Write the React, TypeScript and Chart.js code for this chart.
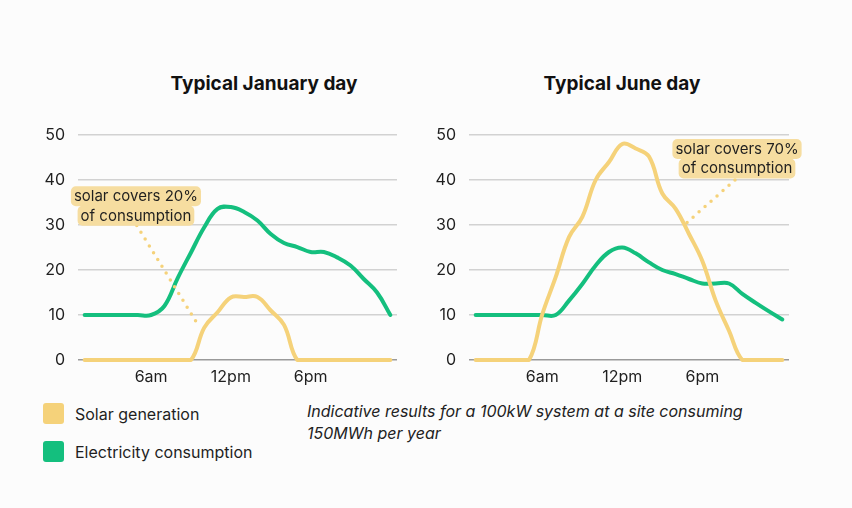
import React, { useEffect, useRef } from 'react';
import { Chart, registerables } from 'chart.js';

Chart.register(...registerables);

// ---- data ----
const hours = [
  '1am', '2am', '3am', '4am', '5am', '6am', '7am', '8am', '9am', '10am', '11am', '12pm',
  '1pm', '2pm', '3pm', '4pm', '5pm', '6pm', '7pm', '8pm', '9pm', '10pm', '11pm', '12am',
];
const shownTicks = ['6am', '12pm', '6pm'];
const yMin = 0;
const yMax = 50;
const yStep = 10;

const janSolar = [0, 0, 0, 0, 0, 0, 0, 0, 0, 7.2, 10.6, 13.9, 14, 14, 11, 7.8, 0, 0, 0, 0, 0, 0, 0, 0];
const janConsumption = [10, 10, 10, 10, 10, 10, 12, 18.2, 23.9, 29.5, 33.6, 34, 32.9, 31, 28, 26, 25.1, 24, 24, 22.8, 21, 18, 15, 10];

const junSolar = [0, 0, 0, 0, 0, 10.2, 18.4, 27.3, 31.8, 40, 44, 48, 47, 45.2, 37, 33.6, 28, 22, 13.2, 6.5, 0, 0, 0, 0];
const junConsumption = [10, 10, 10, 10, 10, 10, 10, 13.2, 16.9, 21, 24, 25, 23.7, 21.7, 20, 19.1, 18, 17, 17, 17, 14.7, 12.7, 10.8, 9];

const seriesNames = ['Solar generation', 'Electricity consumption'];
const titles = ['Typical January day', 'Typical June day'];
const janCallout = { lines: ['solar covers 20%', 'of consumption'], x: 3.86, top: 38.6, from: [3.92, 29.9], to: [8.43, 8.3] };
const junCallout = { lines: ['solar covers 70%', 'of consumption'], x: 19.6, top: 49.1, from: [19.45, 40], to: [15.83, 30.5] };
const note = ['Indicative results for a 100kW system at a site consuming', '150MWh per year'];

// ---- styles ----
const YELLOW = '#F5D27A';
const LABEL_BG = '#F6DDA0';
const GREEN = '#14BF7E';
const TEXT = '#1f1f1f';
const FONT = 'Inter, "Noto Sans", sans-serif';

const calloutPlugin = {
  id: 'callout',
  afterDatasetsDraw(chart: any, _args: any, opts: any) {
    if (!opts || !opts.lines) return;
    const { ctx } = chart;
    const xs = chart.scales.x;
    const ys = chart.scales.y;
    ctx.save();
    // dotted leader
    ctx.beginPath();
    ctx.strokeStyle = YELLOW;
    ctx.lineWidth = 3.5;
    ctx.lineCap = 'round';
    ctx.setLineDash([0, 8]);
    ctx.moveTo(xs.getPixelForValue(opts.from[0]), ys.getPixelForValue(opts.from[1]));
    ctx.lineTo(xs.getPixelForValue(opts.to[0]), ys.getPixelForValue(opts.to[1]));
    ctx.stroke();
    ctx.setLineDash([]);
    // label
    const cx = xs.getPixelForValue(opts.x);
    const top = ys.getPixelForValue(opts.top);
    const lineH = 19.5;
    ctx.font = '15px ' + FONT;
    ctx.textAlign = 'center';
    ctx.textBaseline = 'middle';
    opts.lines.forEach((t: string, i: number) => {
      const w = ctx.measureText(t).width;
      ctx.fillStyle = LABEL_BG;
      ctx.beginPath();
      (ctx as any).roundRect(cx - w / 2 - 3, top + i * lineH, w + 6, lineH + 0.5, 5);
      ctx.fill();
    });
    ctx.fillStyle = TEXT;
    opts.lines.forEach((t: string, i: number) => {
      ctx.fillText(t, cx, top + i * lineH + lineH / 2 + 0.5);
    });
    ctx.restore();
  },
};

function makeConfig(solar: number[], cons: number[], callout: any, padRight: number) {
  const ds = (label: string, data: number[], color: string) => ({
    label,
    data,
    borderColor: color,
    backgroundColor: color,
    borderWidth: 4,
    tension: 0.4,
    pointRadius: 0,
    clip: 8,
    borderCapStyle: 'round' as const,
    borderJoinStyle: 'round' as const,
  });
  return {
    type: 'line' as const,
    data: {
      labels: hours,
      datasets: [ds(seriesNames[0], solar, YELLOW), ds(seriesNames[1], cons, GREEN)],
    },
    options: {
      animation: false as const,
      responsive: false,
      layout: { padding: { top: 15, right: padRight, left: 0, bottom: 0 } },
      plugins: {
        legend: { display: false },
        tooltip: { enabled: false },
        callout,
      },
      scales: {
        x: {
          type: 'category' as const,
          offset: true,
          grid: { display: false, drawTicks: false },
          border: { display: false },
          ticks: {
            autoSkip: false,
            maxRotation: 0,
            padding: 8,
            color: TEXT,
            font: { family: FONT, size: 16 },
            callback: (_v: any, i: number) => (shownTicks.includes(hours[i]) ? hours[i] : ''),
          },
          afterFit: (s: any) => { s.height = 30; },
        },
        y: {
          min: yMin,
          max: yMax,
          grid: {
            drawTicks: false,
            color: (c: any) => (c.tick && c.tick.value === 0 ? '#9a9a9a' : '#d2d2d2'),
            lineWidth: 1.5,
          },
          border: { display: false },
          ticks: {
            stepSize: yStep,
            padding: 13,
            color: TEXT,
            font: { family: FONT, size: 16 },
          },
          afterFit: (s: any) => {
            s.width = 58;
            s.paddingTop = 0;
            s.paddingBottom = 0;
          },
        },
      },
    },
    plugins: [calloutPlugin],
  };
}

function LineChart(props: { solar: number[]; cons: number[]; callout: any; left: number; width: number; padRight: number }) {
  const ref = useRef<HTMLCanvasElement | null>(null);
  useEffect(() => {
    if (!ref.current) return;
    const chart = new Chart(ref.current, makeConfig(props.solar, props.cons, props.callout, props.padRight) as any);
    return () => chart.destroy();
  }, []);
  return (
    <canvas
      ref={ref}
      width={props.width}
      height={270}
      style={{ position: 'absolute', left: props.left, top: 120, width: props.width, height: 270 }}
    />
  );
}

export default function App() {
  const titleStyle: React.CSSProperties = {
    position: 'absolute',
    top: 72,
    width: 300,
    textAlign: 'center',
    fontSize: 19,
    lineHeight: '23px',
    fontWeight: 700,
    color: '#111',
  };
  const legendRow: React.CSSProperties = {
    position: 'absolute',
    left: 43,
    display: 'flex',
    alignItems: 'center',
    fontSize: 16,
    color: TEXT,
  };
  const sw = (c: string): React.CSSProperties => ({
    width: 21,
    height: 21,
    borderRadius: 3,
    background: c,
    marginRight: 11,
  });
  return (
    <div
      style={{
        position: 'absolute',
        left: 0,
        top: 0,
        width: 852,
        height: 508,
        background: '#fcfcfc',
        fontFamily: FONT,
        overflow: 'hidden',
      }}
    >
      <div style={{ ...titleStyle, left: 264 - 150 }}>{titles[0]}</div>
      <div style={{ ...titleStyle, left: 622 - 150 }}>{titles[1]}</div>
      <LineChart solar={janSolar} cons={janConsumption} callout={janCallout} left={20} width={390} padRight={13} />
      <LineChart solar={junSolar} cons={junConsumption} callout={junCallout} left={411} width={400} padRight={22} />
      <div style={{ ...legendRow, top: 403, height: 21 }}>
        <div style={sw(YELLOW)} />
        <span>{seriesNames[0]}</span>
      </div>
      <div style={{ ...legendRow, top: 441, height: 21 }}>
        <div style={sw(GREEN)} />
        <span>{seriesNames[1]}</span>
      </div>
      <div
        style={{
          position: 'absolute',
          left: 307,
          top: 400,
          fontSize: 16,
          lineHeight: '22px',
          fontStyle: 'italic',
          color: '#222',
        }}
      >
        {note[0]}
        <br />
        {note[1]}
      </div>
    </div>
  );
}
